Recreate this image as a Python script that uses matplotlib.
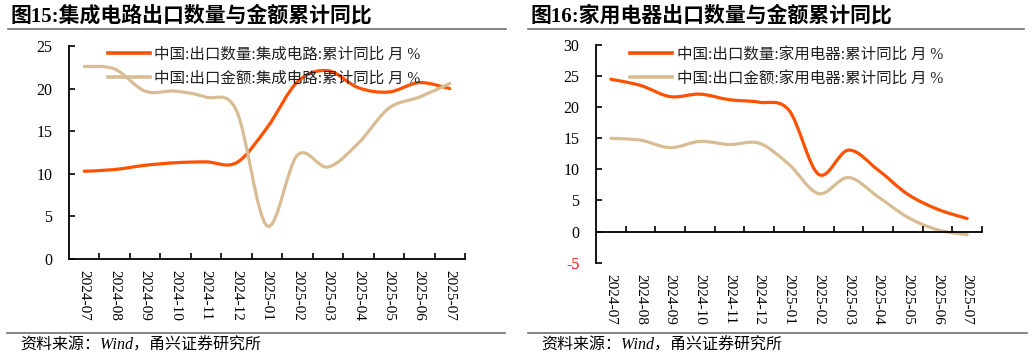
import matplotlib
matplotlib.use("Agg")
import matplotlib.pyplot as plt
from matplotlib.path import Path
from matplotlib.patches import PathPatch
from matplotlib.lines import Line2D
import matplotlib.transforms as mtransforms

months = ["2024-07", "2024-08", "2024-09", "2024-10", "2024-11", "2024-12", "2025-01",
          "2025-02", "2025-03", "2025-04", "2025-05", "2025-06", "2025-07"]

ic_qty = [10.3, 10.5, 11.0, 11.3, 11.4, 11.3, 15.4, 20.8, 22.1, 20.1, 19.6, 20.7, 20.0]
ic_val = [22.6, 22.3, 19.7, 19.7, 19.0, 17.4, 3.9, 12.2, 10.8, 13.6, 17.7, 19.0, 20.6]
ha_qty = [24.5, 23.5, 21.7, 22.1, 21.2, 20.8, 19.5, 9.2, 13.1, 9.9, 6.0, 3.6, 2.1]
ha_val = [15.0, 14.7, 13.5, 14.5, 14.0, 14.2, 10.8, 6.1, 8.7, 5.6, 2.3, 0.3, -0.5]

titles = ["图15:集成电路出口数量与金额累计同比", "图16:家用电器出口数量与金额累计同比"]
labels_ic = ["中国:出口数量:集成电路:累计同比 月 %", "中国:出口金额:集成电路:累计同比 月 %"]
labels_ha = ["中国:出口数量:家用电器:累计同比 月 %", "中国:出口金额:家用电器:累计同比 月 %"]
source = "资料来源：Wind，甬兴证券研究所"

ORANGE = "#FF5200"
TAN = "#D8BC94"
SERIF_CJK = ["Liberation Serif", "Noto Sans CJK SC"]


def smooth_path(values):
    # Excel-like smoothed line: cubic Bezier segments through the data points
    pts = list(zip(range(len(values)), values))
    verts = [pts[0]]; codes = [Path.MOVETO]
    n = len(pts)
    for i in range(n - 1):
        p0 = pts[i - 1] if i > 0 else pts[i]
        p1, p2 = pts[i], pts[i + 1]
        p3 = pts[i + 2] if i + 2 < n else pts[i + 1]
        c1 = (p1[0] + (p2[0] - p0[0]) / 6, p1[1] + (p2[1] - p0[1]) / 6)
        c2 = (p2[0] - (p3[0] - p1[0]) / 6, p2[1] - (p3[1] - p1[1]) / 6)
        verts += [c1, c2, p2]; codes += [Path.CURVE4] * 3
    return Path(verts, codes)


def panel(fig, rect, series, labels, ylim, yticks, legend_anchor, label_offset):
    ax = fig.add_axes(rect)
    n = len(months)
    for vals, color in zip(series, [ORANGE, TAN]):
        ax.add_patch(PathPatch(smooth_path(vals), fill=False, edgecolor=color, lw=2.3,
                               capstyle="round", joinstyle="round"))
    ax.set_xlim(-0.5, n - 0.5); ax.set_ylim(*ylim)
    for s in ["top", "right"]:
        ax.spines[s].set_visible(False)
    ax.spines["bottom"].set_position(("data", 0))
    ax.spines["left"].set_linewidth(1.3); ax.spines["bottom"].set_linewidth(1.3)
    ax.set_yticks(yticks)
    ax.set_yticklabels([str(t) for t in yticks], fontfamily="Liberation Serif", fontsize=11.5)
    for t, lab in zip(yticks, ax.get_yticklabels()):
        if t < 0:
            lab.set_color("red")
    ax.tick_params(axis="y", direction="in", length=4, width=1.2, pad=12)
    ax.set_xticks([i + 0.5 for i in range(n)])
    ax.set_xticklabels([])
    ax.tick_params(axis="x", direction="in", length=4.5, width=1.2)
    trans = mtransforms.blended_transform_factory(ax.transData, ax.transAxes)
    for i, m in enumerate(months):
        ax.text(i, label_offset, m, transform=trans, rotation=270, ha="center", va="top",
                fontfamily="Liberation Serif", fontsize=11)
    handles = [Line2D([], [], color=c, lw=2.6) for c in [ORANGE, TAN]]
    ax.legend(handles, labels, loc="upper left", bbox_to_anchor=legend_anchor, frameon=False,
              prop={"family": SERIF_CJK, "size": 11.2}, handlelength=2.7, handletextpad=0.3,
              labelspacing=0.5, borderaxespad=0, labelcolor="#222222")
    return ax


fig = plt.figure(figsize=(10.32, 3.6), dpi=100)

panel(fig, [69 / 1032, 1 - 259 / 360, 396 / 1032, 213 / 360], [ic_qty, ic_val], labels_ic,
      (0, 25), [0, 5, 10, 15, 20, 25], (0.082, 1.025), -0.05)
panel(fig, [596 / 1032, 1 - 262.7 / 360, 386 / 1032, 217.7 / 360], [ha_qty, ha_val], labels_ha,
      (-5, 30), [-5, 0, 5, 10, 15, 20, 25, 30], (0.072, 1.02), -0.05)

for x0, title in zip([10 / 1032, 531 / 1032], titles):
    fig.text(x0, 1 - 16 / 360, title, ha="left", va="center", fontsize=15, fontweight="bold",
             fontfamily=SERIF_CJK)
for xa, xb in [(8, 506), (528, 1024)]:
    fig.add_artist(Line2D([xa / 1032, xb / 1032], [1 - 29 / 360] * 2, color="#707070", lw=1.2))
for xa, xb in [(7, 505), (528, 1027)]:
    fig.add_artist(Line2D([xa / 1032, xb / 1032], [1 - 333 / 360] * 2, color="#707070", lw=1.2))
for x0 in [20 / 1032, 541 / 1032]:
    fig.text(x0, 1 - 346 / 360, source, ha="left", va="center", fontsize=11.5,
             fontfamily=SERIF_CJK, fontstyle="italic")

fig.savefig("out.png", dpi=100)
